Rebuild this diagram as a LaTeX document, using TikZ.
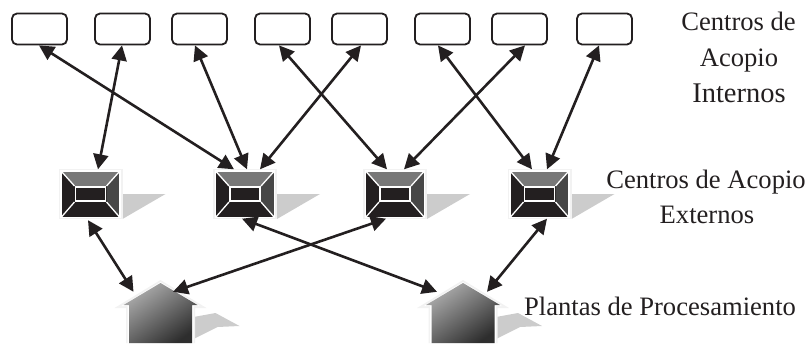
\documentclass[tikz,border=0pt]{standalone}
\usepackage{fontspec}
\setmainfont{Liberation Serif}
\usetikzlibrary{arrows.meta,shadings}
\definecolor{ink}{HTML}{231F20}
\tikzset{
  x=1pt,y=-1pt,
  centro/.style={draw=ink,line width=1.8pt,rounded corners=5pt,minimum width=55pt,minimum height=31pt,inner sep=0pt,fill=white},
  link/.style={draw=ink,line width=2.6pt,{Triangle[length=15pt,width=15pt]}-{Triangle[length=15pt,width=15pt]}},
  lbl/.style={font=\fontsize{26.6}{30}\selectfont,text=ink,inner sep=0pt,anchor=base},
  lblbig/.style={font=\fontsize{28.5}{30}\selectfont,text=ink,inner sep=0pt,anchor=base},
  anchorbox/.style={minimum width=62pt,minimum height=49pt,inner sep=0pt},
  housebox/.style={minimum width=62pt,minimum height=60pt,inner sep=0pt},
  pics/almacen/.style={code={
    \fill[black!20] (32,0) -- (75,0) -- (32,25) -- cycle;
    \fill[black!5] (-32,-25.5) rectangle (32,25);
    \fill[white] (-30,-23.5) rectangle (30,24);
    \fill[ink] (-29,-22.5) rectangle (29,23);
    \fill[black!53] (-29,-22.5) -- (29,-22.5) -- (16,-8) -- (-16,-8) -- cycle;
    \fill[black!72] (29,-22.5) -- (29,23) -- (16,8) -- (16,-8) -- cycle;
    \draw[white,line width=1.3pt] (-29,-22.5) -- (-16,-8) (29,-22.5) -- (16,-8) (-29,23) -- (-16,8) (29,23) -- (16,8);
    \draw[white,line width=1.3pt] (-15,-7) rectangle (15,7);
    \draw[white,line width=1.2pt] (-29.5,-23) rectangle (29.5,23.5);
  }},
  pics/planta/.style={code={
    \fill[black!20] (33,-26) -- (55,-30) -- (79,-17) -- (57,-16) -- (33,-4) -- cycle;
    \fill[black!5] (-46,-35) -- (0,-63) -- (46,-35) -- (34.5,-35) -- (34.5,0) -- (-34.5,0) -- (-34.5,-35) -- cycle;
    \fill[white] (-39,-37) -- (0,-61) -- (39,-37) -- (33,-37) -- (33,0) -- (-33,0) -- (-33,-37) -- cycle;
    \shade[top color=black!32,bottom color=black!82,shading angle=35] (-31.5,0) -- (-31.5,-38) -- (-37,-38) -- (0,-60) -- (37,-38) -- (31.5,-38) -- (31.5,0) -- cycle;
  }}
}
\begin{document}
\begin{tikzpicture}
\useasboundingbox (0,0) rectangle (810,343);
\node[centro] (t1) at (39.5,29) {};
\node[centro] (t2) at (122.5,29) {};
\node[centro] (t3) at (199.5,29) {};
\node[centro] (t4) at (282.5,29) {};
\node[centro] (t5) at (359.5,29) {};
\node[centro] (t6) at (442.5,29) {};
\node[centro] (t7) at (519.5,29) {};
\node[centro] (t8) at (604.5,29) {};
\node[anchorbox] (w1) at (90.5,194) {}; \path (w1.center) pic {almacen};
\node[anchorbox] (w2) at (245,194) {}; \path (w2.center) pic {almacen};
\node[anchorbox] (w3) at (395,194) {}; \path (w3.center) pic {almacen};
\node[anchorbox] (w4) at (539.5,194) {}; \path (w4.center) pic {almacen};
\node[housebox] (h1) at (160.5,313) {}; \path (160.5,343) pic {planta};
\node[housebox] (h2) at (463,313) {}; \path (463,343) pic {planta};
\draw[link] ([xshift=-.5pt]t1.south) -- ([xshift=-11pt]w2.north);
\draw[link] ([xshift=-.5pt]t2.south) -- ([xshift=7.5pt]w1.north);
\draw[link] ([xshift=-4.5pt]t3.south) -- ([xshift=2pt]w2.north);
\draw[link] ([xshift=-3.5pt]t4.south) -- ([xshift=-8pt]w3.north);
\draw[link] ([xshift=1.5pt]t5.south) -- ([xshift=15pt]w2.north);
\draw[link] ([xshift=-4.5pt]t6.south) -- ([xshift=-7.5pt]w4.north);
\draw[link] ([xshift=5.5pt]t7.south) -- ([xshift=9pt]w3.north);
\draw[link] ([xshift=-5.5pt]t8.south) -- ([xshift=7.5pt]w4.north);
\draw[link] ([xshift=-2.5pt,yshift=-1.5pt]w1.south) -- ([xshift=-27pt,yshift=-9pt]h1.north);
\draw[link] ([xshift=-9pt]w3.south) -- ([xshift=12.5pt,yshift=-9pt]h1.north);
\draw[link] ([xshift=-3pt]w2.south) -- ([xshift=-26pt,yshift=-9pt]h2.north);
\draw[link] ([xshift=7.5pt]w4.south) -- ([xshift=24pt,yshift=-9pt]h2.north);
\node[lbl] (a1) at (738.5,30) {Centros de};
\node[lbl] (a2) at (739,66) {Acopio};
\node[lblbig] (a3) at (739,102) {Internos};
\node[lbl] (b1) at (706,188) {Centros de Acopio};
\node[lbl] (b2) at (707,223) {Externos};
\node[lbl] (c) at (660,315) {Plantas de Procesamiento};
\end{tikzpicture}
\end{document}
